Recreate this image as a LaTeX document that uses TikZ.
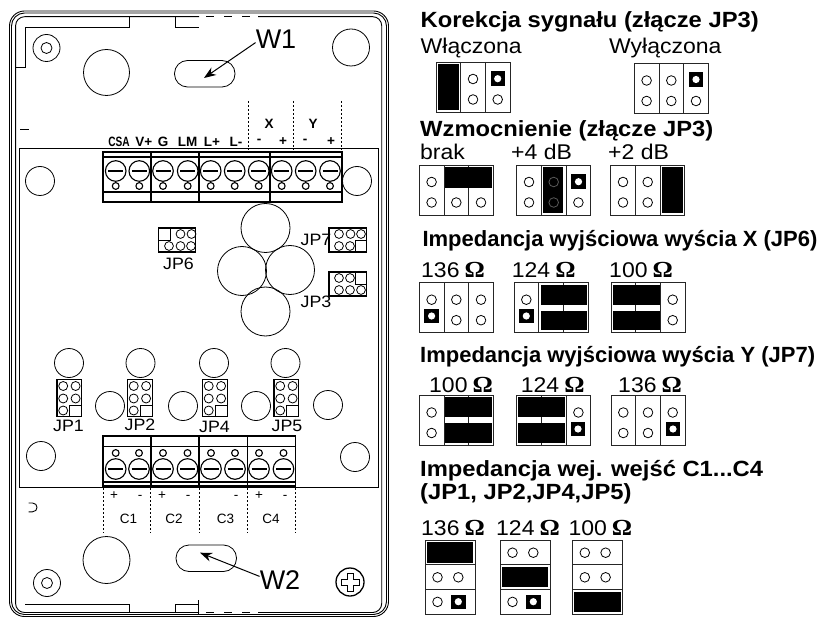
\documentclass[tikz,border=0pt]{standalone}
\usepackage{fontspec}
\usetikzlibrary{arrows.meta}
\setmainfont{Liberation Sans}
\newfontfamily\labelfont[FakeStretch=1.08]{Liberation Sans}
\newfontfamily\omegafont[FakeStretch=1.1]{Liberation Serif}

\tikzset{
  casing/.style={line width=0.9pt},
  thin line/.style={line width=0.8pt},
  block/.style={line width=1.2pt},
  frame/.style={line width=0.8pt,black!85},
  ttl/.style={anchor=base west,inner sep=0pt,font=\labelfont\fontsize{22}{22}\selectfont\bfseries},
  ttlnarrow/.style={anchor=base west,inner sep=0pt,font=\fontsize{22}{22}\selectfont\bfseries},
  val/.style={anchor=base west,inner sep=0pt,font=\labelfont\fontsize{21.3}{21.3}\selectfont},
  term/.style={inner sep=0pt,font=\fontsize{13.5}{13.5}\selectfont\bfseries},
  jplabel/.style={inner sep=0pt,font=\labelfont\fontsize{16.5}{16.5}\selectfont},
  chan/.style={inner sep=0pt,font=\fontsize{13.5}{13.5}\selectfont},
  big/.style={inner sep=0pt,font=\fontsize{27}{27}\selectfont},
  callout/.style={line width=1pt,-{Stealth[length=12pt,width=9pt]}}
}

% pin holes given as cell/row
\newcommand{\jumperh}[3]{
  \begin{scope}[shift={(#1,#2)}]
    \draw[frame] (0,0) rectangle (74,50) (24.7,0) -- (24.7,50) (49.3,0) -- (49.3,50);
    \foreach \c/\r in {#3}
      \draw[thin line] (12.3+24.7*\c,17+20.5*\r) circle (4.8);
  \end{scope}
}
\newcommand{\jumperv}[3]{
  \begin{scope}[shift={(#1,#2)}]
    \draw[frame] (0,0) rectangle (50,74) (0,24.5) -- (50,24.5) (0,49.5) -- (50,49.5);
    \foreach \c/\r in {#3}
      \draw[thin line] (12.5+20.8*\c,12.7+24.6*\r) circle (4.8);
  \end{scope}
}
\newcommand{\strap}[2]{
  \fill (#1-7.2,#2-7.2) rectangle (#1+7.2,#2+7.2);
  \fill[white] (#1,#2) circle (3.6);
}
\newcommand{\shunt}[4]{\fill (#1,#2) rectangle (#3,#4);}
\newcommand{\ohm}{\hspace{5pt}{\omegafont\fontsize{23}{23}\selectfont\bfseries Ω}}

\begin{document}
\begin{tikzpicture}[x=1pt,y=-1pt]
  \useasboundingbox (0,0) rectangle (834,617);

  % housing
  \draw[casing,rounded corners=15pt] (9.5,11) rectangle (388.5,616.5);
  \draw[casing,rounded corners=13pt] (11.5,13) rectangle (386.5,614.5);
  \draw[casing,rounded corners=9pt] (199,16.7) -- (15.6,16.7) -- (15.6,612.5) -- (199,612.5);
  \draw[casing,rounded corners=9pt] (258,16.7) -- (381.7,16.7) -- (381.7,612.5) -- (258,612.5);
  \draw[casing,dash pattern=on 8pt off 10pt] (206,16.7) -- (258,16.7);
  \draw[casing,dash pattern=on 8pt off 10pt] (206,612.5) -- (258,612.5);

  \draw[casing] (15.6,67) -- (25,67) -- (25,27) -- (129.5,27) -- (129.5,17);
  \draw[casing] (175.5,17) -- (175.5,27) -- (199,27);
  \draw[casing] (25,604.5) -- (129.5,604.5) -- (129.5,612.5);
  \draw[casing] (175.5,612.5) -- (175.5,604.5) -- (198.5,604.5) (198.5,600) -- (198.5,615);
  \draw[casing] (20,129.5) -- (28.5,129.5);
  \draw[casing] (28.5,503) -- (32.5,503) .. controls (38.5,503) and (38.5,511.8) .. (32.5,511.8) -- (28.5,511.8);

  % mounting holes
  \foreach \x/\y in {46.5/48,47/583} {
    \draw[thin line] (\x,\y) circle (13.5);
    \draw[thin line] (\x,\y) circle (5.5);
  }
  \draw[thin line] (106.5,72.5) circle (23);
  \draw[thin line] (106.5,560) circle (23.5);
  \draw[thin line] (351,47.5) circle (18.5);
  \draw[thin line,rounded corners=13pt] (174.5,60.5) rectangle (235,87);
  \draw[thin line,rounded corners=13pt] (176,545) rectangle (236.5,571.5);

  % screw
  \draw[line width=1.3pt] (350,582) circle (14);
  \draw[line width=1pt] (347,573) -- (353,573) -- (353,579) -- (359,579) -- (359,585) -- (353,585)
    -- (353,591) -- (347,591) -- (347,585) -- (341,585) -- (341,579) -- (347,579) -- cycle;

  % board
  \draw[line width=1pt] (19,149) rectangle (378,487);
  \foreach \x/\y in {40/181,357/181,69/363,140.5/363,214/363,285.5/363,110/406,183/406,256/406,328/405,41/456,355/457}
    \draw[thin line] (\x,\y) circle (14.5);
  \foreach \x/\y in {265.5/228,242/271,290/270,265.5/311.5}
    \draw[thin line] (\x,\y) circle (24.5);

  % output terminals
  \draw[block] (103,152) rectangle (342,202);
  \draw[block] (103,157) -- (342,157) (103,192) -- (342,192);
  \foreach \x in {151,199,270}
    \draw[block] (\x,152) -- (\x,202);
  \foreach \x in {115.7,139.3,163,187.7,210.7,234.7,258.7,281.7,305.7,330} {
    \draw[line width=1.1pt] (\x,171) circle (10.3);
    \draw[line width=1.1pt] (\x-7.5,171) -- (\x+7.5,171);
    \draw[line width=1.1pt] (\x,186) circle (3.4);
  }
  \foreach \x in {248,293,341.5}
    \draw[thin line,dash pattern=on 2pt off 2pt] (\x,101) -- (\x,150);

  \draw (119,142)node(csa)[term,xscale=0.75,transform shape]{CSA};
  \draw (143.7,141.5)node(vplus)[term]{V+};
  \draw (163,141.5)node(gnd)[term]{G};
  \draw (187.5,141.5)node(lm)[term]{LM};
  \draw (212,141.5)node(lplus)[term]{L+};
  \draw (236,141.5)node(lminus)[term]{L-};
  \draw (259,141.5)node(xminus)[term]{-};
  \draw (283,141.5)node(xplus)[term]{+};
  \draw (305,141.5)node(yminus)[term]{-};
  \draw (331,141.5)node(yplus)[term]{+};
  \draw (269,124)node(xout)[term]{X};
  \draw (313,124)node(yout)[term]{Y};

  % input terminals
  \draw[block] (103,436) rectangle (295.5,486);
  \draw[block] (103,446.7) -- (295.5,446.7) (103,482) -- (295.5,482);
  \foreach \x in {151,199,247.5}
    \draw[block] (\x,436) -- (\x,486);
  \foreach \x in {115.7,139,163,187.5,211,235,259,283.5} {
    \draw[line width=1.1pt] (\x,469) circle (10.3);
    \draw[line width=1.1pt] (\x-7.5,469) -- (\x+7.5,469);
    \draw[line width=1.1pt] (\x,453) circle (3.4);
  }
  \foreach \x in {103,150.5,199,247,295.5}
    \draw[thin line,dash pattern=on 2pt off 2pt] (\x,488) -- (\x,533);

  \draw (114,496)node(cplusa)[chan]{+};
  \draw (140,497)node(cminusa)[chan]{-};
  \draw (162,496)node(cplusb)[chan]{+};
  \draw (188,497)node(cminusb)[chan]{-};
  \draw (236,497)node(cminusc)[chan]{-};
  \draw (259,496)node(cplusd)[chan]{+};
  \draw (285,497)node(cminusd)[chan]{-};
  \draw (128.5,519)node(ca)[chan]{C1};
  \draw (174,519)node(cb)[chan]{C2};
  \draw (225.5,519)node(cc)[chan]{C3};
  \draw (271,519)node(cd)[chan]{C4};

  % jumpers on the board
  \foreach \x/\y in {158.5/228,329/228,329/272}
    \draw[block] (\x,\y) rectangle +(37.2,24);
  \draw[thin line] (158.5,240) -| (170.5,228);
  \draw[thin line] (355,252) |- (366,240);
  \draw[thin line] (355,272) |- (366,284);
  \foreach \x/\y in {180.5/234,191.5/234,169/246,180.5/246,191/246,339/234,350.5/234,361/234,339/246,350/246,339/278,350/278,339/290,350/290,361/290}
    \draw[thin line] (\x,\y) circle (4.4);

  \foreach \x in {57,127.5,202.5,274} {
    \draw[block] (\x,379.3) rectangle +(24.7,37.4);
    \draw[thin line] (\x+12.7,416.7) |- (\x+24.7,405);
    \foreach \y in {386,398.5} {
      \draw[thin line] (\x+6.2,\y) circle (4.5);
      \draw[thin line] (\x+18.6,\y) circle (4.5);
    }
    \draw[thin line] (\x+6.2,410.5) circle (4.5);
  }

  \draw (178.5,264)node(jpsix)[jplabel]{JP6};
  \draw (316,240)node(jpseven)[jplabel]{JP7};
  \draw (316,302)node(jpthree)[jplabel]{JP3};
  \draw (68.5,426)node(jpone)[jplabel]{JP1};
  \draw (140,425)node(jptwo)[jplabel]{JP2};
  \draw (214.5,427)node(jpfour)[jplabel]{JP4};
  \draw (287,426)node(jpfive)[jplabel]{JP5};

  % callouts
  \draw (276,39)node(wone)[big]{W1};
  \draw (280,580)node(wtwo)[big]{W2};
  \coordinate (wonetip) at (204,78);
  \coordinate (wtwotip) at (200,552.7);
  \draw[callout] (wone.190) -- (wonetip);
  \draw[callout] (wtwo.170) -- (wtwotip);

  % signal correction
  \draw (420.5,28)node(tcorr)[ttl]{Korekcja sygnału (złącze JP3)};
  \draw (420.5,54)node(von)[val]{Włączona};
  \draw (609,54)node(voff)[val]{Wyłączona};
  \jumperh{436}{62}{1/0,1/1,2/1}
  \shunt{437.5}{64}{458.5}{110}
  \strap{497.7}{78.7}
  \jumperh{634.3}{63.5}{0/0,1/0,0/1,1/1,2/1}
  \strap{696}{79.5}

  % gain
  \draw (420,136.7)node(tgain)[ttl]{Wzmocnienie (złącze JP3)};
  \draw (420,160)node(vbrak)[val]{brak};
  \draw (511,160)node(vfour)[val]{+4 dB};
  \draw (608,160)node(vtwo)[val]{+2 dB};
  \jumperh{419.3}{165}{0/0,0/1,1/1,2/1}
  \shunt{445}{167}{491.7}{187.7}
  \jumperh{516.7}{165}{0/0,0/1,2/1}
  \shunt{542.7}{167}{563.3}{213}
  \draw[black!65,thin line] (553.7,182) circle (4.8) (553.7,202.5) circle (4.8);
  \strap{578.5}{181.7}
  \jumperh{610.7}{165}{0/0,1/0,0/1,1/1}
  \shunt{662.3}{167}{683.3}{213}

  % output impedance X
  \draw (422.3,246.7)node(timpx)[ttlnarrow]{Impedancja wyjściowa wyścia X (JP6)};
  \draw (421,277.3)node(vxa)[val]{136\ohm};
  \draw (511.7,277.3)node(vxb)[val]{124\ohm};
  \draw (609,277.3)node(vxc)[val]{100\ohm};
  \jumperh{419.3}{282.7}{0/0,1/0,2/0,1/1,2/1}
  \strap{431.6}{316}
  \jumperh{514}{282.7}{0/0}
  \strap{526.3}{316}
  \shunt{540.7}{285}{586.7}{305}
  \shunt{540.7}{310.7}{586.7}{330}
  \jumperh{611}{282.7}{2/0,2/1}
  \shunt{612.7}{285}{660}{305}
  \shunt{612.7}{310.7}{660}{330}

  % output impedance Y
  \draw (420,362.7)node(timpy)[ttlnarrow]{Impedancja wyjściowa wyścia Y (JP7)};
  \draw (429,392.7)node(vya)[val]{100\ohm};
  \draw (520.7,392.7)node(vyb)[val]{124\ohm};
  \draw (618,392.7)node(vyc)[val]{136\ohm};
  \jumperh{419.3}{395.5}{0/0,0/1}
  \shunt{445}{397}{492}{416.7}
  \shunt{445}{422.7}{492}{443.3}
  \jumperh{516.7}{395.5}{2/0}
  \shunt{518.3}{397}{565}{416.7}
  \shunt{518.3}{422.7}{565}{443.3}
  \strap{578}{429}
  \jumperh{611}{395.5}{0/0,1/0,2/0,0/1,1/1}
  \strap{673}{429}

  % input impedance
  \draw (420,476)node(timpc)[ttl]{Impedancja wej. wejść C1...C4};
  \draw (420,499.3)node(tjp)[ttl]{(JP1, JP2,JP4,JP5)};
  \draw (421,535)node(vca)[val]{136\ohm};
  \draw (496,535)node(vcb)[val]{124\ohm};
  \draw (568.3,535)node(vcc)[val]{100\ohm};
  \jumperv{425}{540}{0/1,1/1,0/2}
  \shunt{426.7}{542}{473.3}{562.7}
  \strap{458.3}{601.7}
  \jumperv{500}{540}{0/0,1/0,0/2}
  \shunt{501.7}{566.7}{548.3}{587.3}
  \strap{533.3}{601.7}
  \jumperv{572.3}{540}{0/0,1/0,0/1,1/1}
  \shunt{574}{591.7}{620.6}{612}
\end{tikzpicture}
\end{document}
